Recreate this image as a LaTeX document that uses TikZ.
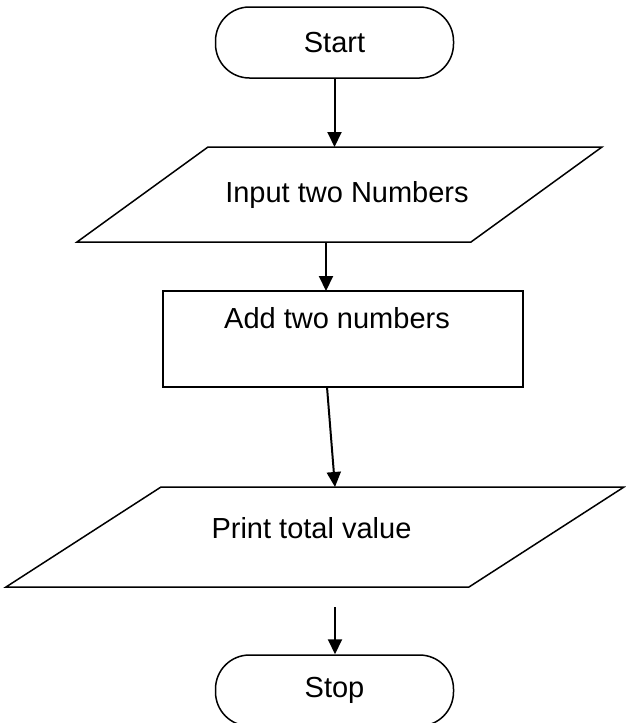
\documentclass[tikz,border=0pt]{standalone}
\usepackage{fontspec}
\setmainfont{Liberation Sans}
\usepackage{tikz}
\usetikzlibrary{arrows.meta,calc}

\begin{document}
\begin{tikzpicture}[x=1pt, y=-1pt, >={Triangle[length=15pt,width=14pt]},
  every node/.style={font=\fontsize{29pt}{34pt}\selectfont},
  term/.style={draw, line width=1.5pt, rounded corners=34pt, minimum width=238pt, minimum height=71pt, inner sep=0pt},
  frame/.style={inner sep=0pt, outer sep=0pt},
  outline/.style={line width=1.5pt, line join=miter},
  flow/.style={->, line width=2pt}]

\useasboundingbox (0,0) rectangle (626,723);

% Terminals
\node[term] (start) at (334.5,42.5) {Start};
\node[term] (stop) at (334.5,690.5) {Stop};

% Input
\node[frame, minimum width=525pt, minimum height=95pt] (input) at (339.5,194.5) {};
\draw[outline] ([xshift=131pt]input.north west) -- (input.north east) -- ([xshift=-131pt]input.south east) -- (input.south west) -- cycle;
\node[anchor=base] (inputtxt) at (347,202) {Input two Numbers};

% Process
\node[draw, outline, frame, minimum width=360pt, minimum height=96pt] (add) at (343,339) {};
\node[anchor=base] (addtxt) at (337,328) {Add two numbers};

% Output
\node[frame, minimum width=618pt, minimum height=100pt] (print) at (315,537) {};
\draw[outline] ([xshift=155pt]print.north west) -- (print.north east) -- ([xshift=-155pt]print.south east) -- (print.south west) -- cycle;
\node[anchor=base] (printtxt) at (311.5,538) {Print total value};

% Arrows
\draw[flow] (start.south) -- (start.south |- input.north);
\draw[flow] ([xshift=-13.5pt]input.south) -- ([xshift=-13.5pt]input.south |- add.north);
\draw[flow] ([xshift=-16pt]add.south) -- ([xshift=20pt]print.north);
\coordinate (gap) at (335,607);
\draw[flow] (gap) -- (gap |- stop.north);

\end{tikzpicture}
\end{document}
